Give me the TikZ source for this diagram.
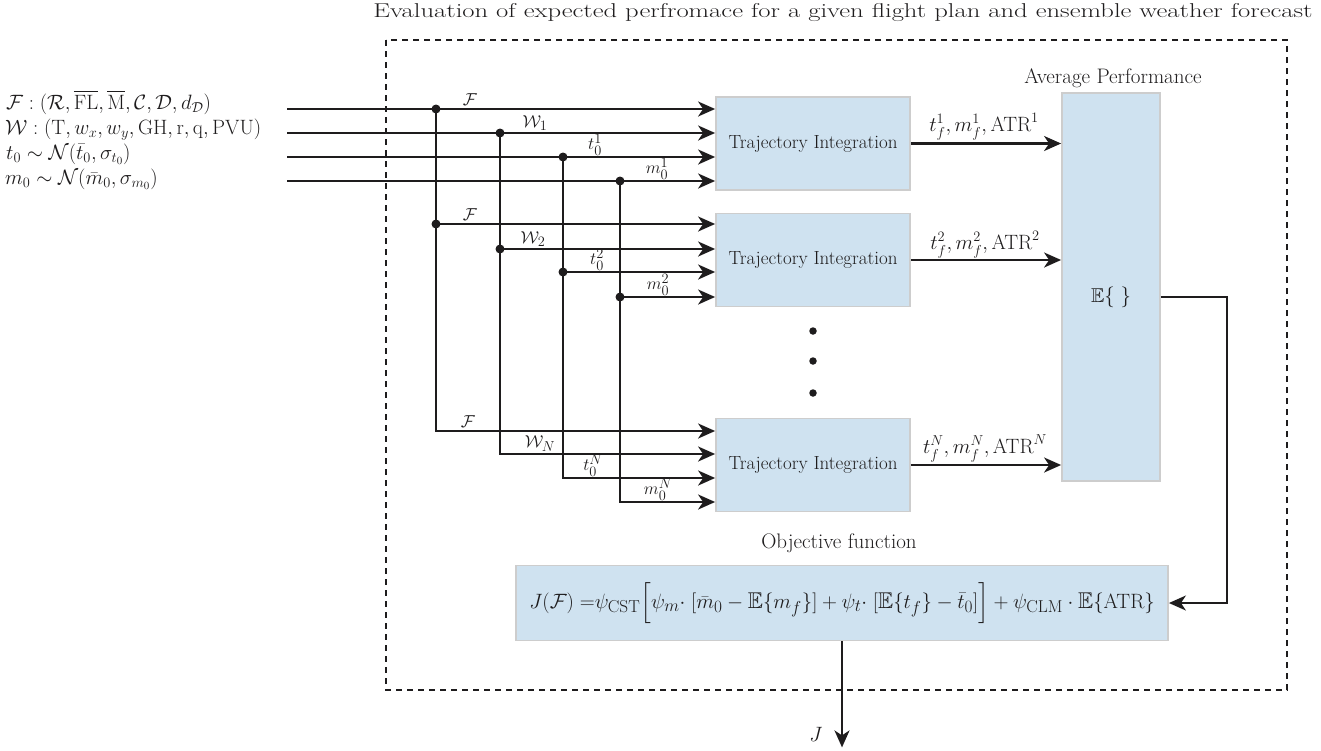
\documentclass[tikz,border=0pt]{standalone}
\usepackage{amsmath,amssymb}
\usetikzlibrary{arrows.meta,calc}
\definecolor{boxfill}{RGB}{207,226,240}
\definecolor{boxline}{RGB}{205,205,205}
\definecolor{ink}{RGB}{30,28,29}
\begin{document}
\begin{tikzpicture}[x=1pt,y=-1pt,
  every node/.style={font=\fontsize{21}{24}\selectfont, inner sep=0pt, text=ink},
  tbox/.style={draw=boxline, fill=boxfill, line width=1.8pt, minimum width=194pt, minimum height=93pt, inner sep=0pt},
  tint/.style={tbox, font=\fontsize{19}{22}\selectfont},
  wire/.style={line width=2.1pt, draw=ink},
  arr/.style={wire, -{Stealth[length=17pt,width=15pt,inset=5pt]}},
  jdot/.style={circle, fill=ink, minimum size=9pt, inner sep=0pt},
  vdot/.style={circle, fill=ink, minimum size=7.5pt, inner sep=0pt},
  lab/.style={anchor=south, inner sep=0pt, font=\fontsize{19}{22}\selectfont},
  olab/.style={anchor=south, inner sep=0pt, font=\fontsize{21.5}{24}\selectfont},
  frame/.style={line width=1.8pt, draw=ink, dash pattern=on 6pt off 5pt}]
\useasboundingbox (0,0) rectangle (1321,750);

% title and frame
\node[font=\fontsize{20}{24}\selectfont, xscale=1.33] (title) at (843,13) {Evaluation of expected perfromace for a given flight plan and ensemble weather forecast};
\draw[frame] (386,40) rectangle (1287,690);

% input labels
\node[anchor=base west] (lF) at (6,109) {$\mathcal{F}:(\mathcal{R},\overline{\mathrm{FL}},\overline{\mathrm{M}},\mathcal{C},\mathcal{D},d_{\mathcal{D}})$};
\node[anchor=base west] (lW) at (5,134) {$\mathcal{W}:(\mathrm{T},w_x,w_y,\mathrm{GH},\mathrm{r},\mathrm{q},\mathrm{PVU})$};
\node[anchor=base west] (lt) at (6,159) {$t_0\sim\mathcal{N}(\bar{t}_0,\sigma_{t_0})$};
\node[anchor=base west] (lm) at (5,184) {$m_0\sim\mathcal{N}(\bar{m}_0,\sigma_{m_0})$};

% boxes
\node[tint] (T1) at (813,143.5) {Trajectory Integration};
\node[tint] (T2) at (813,260) {Trajectory Integration};
\node[tint] (T3) at (813,465) {Trajectory Integration};
\node[tbox, minimum width=98pt, minimum height=388pt] (E) at (1111,287) {};
\node[font=\fontsize{20}{24}\selectfont] (Etxt) at (1111,297) {$\mathbb{E}\{\;\}$};
\node (avg) at (1113,78) {Average Performance};
\node[tbox, minimum width=652pt, minimum height=75pt, font=\fontsize{22.8}{26}\selectfont] (J) at (842,603) {$J(\mathcal{F})\;{=}\psi_{\mathrm{CST}}\Big[\psi_{m}{\cdot}\;[\bar{m}_0-\mathbb{E}\{m_f\}]+\psi_{t}{\cdot}\;[\mathbb{E}\{t_f\}-\bar{t}_0]\Big]+\psi_{\mathrm{CLM}}\cdot\mathbb{E}\{\mathrm{ATR}\}$};
\node (obj) at (839,543) {Objective function};

% input start points
\coordinate (sF) at (287,109);
\coordinate (sW) at (287,133);
\coordinate (st) at (287,157);
\coordinate (sm) at (287,181);
% junctions row 1
\coordinate (aF) at (436,109);
\coordinate (aW) at (500,133);
\coordinate (at) at (563,157);
\coordinate (am) at (620,181);
% junctions row 2
\coordinate (bF) at (436,224);
\coordinate (bW) at (500,249);
\coordinate (bt) at (563,272);
\coordinate (bm) at (620,297);

% row 1
\draw[arr] (sF) -- (sF -| T1.west);
\draw[arr] (sW) -- (sW -| T1.west);
\draw[arr] (st) -- (st -| T1.west);
\draw[arr] (sm) -- (sm -| T1.west);
% buses down to row 3
\draw[arr] (aF) |- ($(T3.west)+(0,-34)$);
\draw[arr] (aW) |- ($(T3.west)+(0,-11)$);
\draw[arr] (at) |- ($(T3.west)+(0,13)$);
\draw[arr] (am) |- ($(T3.west)+(0,37)$);
% row 2
\draw[arr] (bF) -- (bF -| T2.west);
\draw[arr] (bW) -- (bW -| T2.west);
\draw[arr] (bt) -- (bt -| T2.west);
\draw[arr] (bm) -- (bm -| T2.west);

% junction dots
\foreach \p in {aF,aW,at,am,bF,bW,bt,bm} \node[jdot] (d\p) at (\p) {};

% line labels row 1
\node[lab] (f1) at (470,106) {$\mathcal{F}$};
\node[lab] (w1) at (535,131) {$\mathcal{W}_1$};
\node[lab] (t1) at (595,156) {$t_0^1$};
\node[lab] (m1) at (657,180) {$m_0^1$};
% row 2
\node[lab] (f2) at (470,221) {$\mathcal{F}$};
\node[lab] (w2) at (533,247) {$\mathcal{W}_2$};
\node[lab] (t2) at (597,271) {$t_0^2$};
\node[lab] (m2) at (658,296) {$m_0^2$};
% row 3
\node[lab] (f3) at (468,428) {$\mathcal{F}$};
\node[lab] (w3) at (540,452) {$\mathcal{W}_N$};
\node[lab] (t3) at (593,477) {$t_0^N$};
\node[lab] (m3) at (658,501) {$m_0^N$};

% outputs
\draw[arr] (T1.east) -- (T1.east -| E.west);
\draw[arr] (T2.east) -- (T2.east -| E.west);
\draw[arr] (T3.east) -- (T3.east -| E.west);
\node[olab] (o1) at (984,140) {$t_f^1,m_f^1,\mathrm{ATR}^1$};
\node[olab] (o2) at (985,258) {$t_f^2,m_f^2,\mathrm{ATR}^2$};
\node[olab] (o3) at (985,462) {$t_f^N,m_f^N,\mathrm{ATR}^N$};

% ellipsis dots
\node[vdot] (v1) at (813,331) {};
\node[vdot] (v2) at (813,361) {};
\node[vdot] (v3) at (813,393) {};

% feedback and output
\draw[arr] (Etxt -| E.east) -- ++(66,0) |- (J.east);
\draw[arr] (J.south) -- ++(0,106) coordinate (Jend);
\node (Jlab) at (816,734) {$J$};
\end{tikzpicture}
\end{document}
